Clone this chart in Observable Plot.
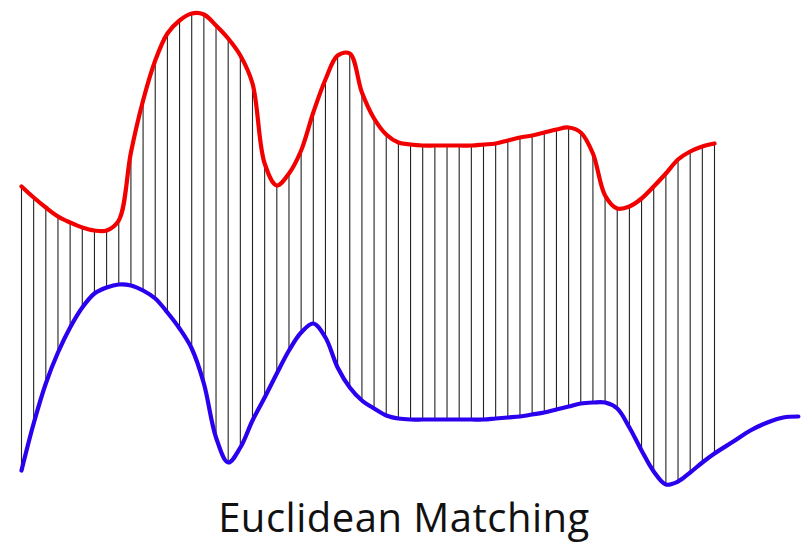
<!DOCTYPE html>
<html>
<head>
<meta charset="utf-8">
<script src="https://cdn.jsdelivr.net/npm/d3@7"></script>
<script src="https://cdn.jsdelivr.net/npm/@observablehq/plot@0.6"></script>
<style>
  html, body { margin: 0; padding: 0; background: #fff; }
  #wrap { position: relative; width: 808px; height: 544px; overflow: hidden; }
  #title { position: absolute; left: 0; width: 808px; top: 497px; text-align: center;
           font-family: "Open Sans", sans-serif; font-size: 40px; line-height: 40px;
           letter-spacing: 0.5px; color: #111; }
</style>
</head>
<body>
<div id="wrap">
  <div id="chart"></div>
  <div id="title">Euclidean Matching</div>
</div>
<script>
// sample index of each matching line (0..57)
const redSeries = [309, 298, 288, 279, 273, 268, 265, 265, 275, 343,
                   395, 435, 462, 475, 482, 481, 470, 457, 440, 412,
                   332, 310, 322, 345, 383, 416, 440, 442, 403, 377,
                   361, 353, 351, 350, 350, 350, 350, 350, 351, 352,
                   355, 358, 360, 363, 366, 368, 363, 342, 300, 287,
                   289, 297, 309, 322, 336, 344, 349, 352];
const blueSeries = [25, 72, 112, 143, 168, 188, 202, 208, 211, 210,
                    205, 197, 183, 167, 147, 112, 58, 33, 48, 75,
                    98, 122, 145, 163, 172, 158, 128, 108, 95, 87,
                    80, 77, 76, 76, 76, 76, 76, 76, 76, 77,
                    78, 79, 81, 83, 86, 89, 92, 93, 93, 87,
                    68, 45, 24, 11, 14, 23, 33, 42];
// blue series continues past the last matching line
const blueTailIndex = [58.55, 59.95, 61.35, 62.66, 63.9];
const blueTailValue = [54, 65, 73, 78, 79];

const matches = redSeries.map((r, i) => ({i, red: r, blue: blueSeries[i]}));
const redPts = redSeries.map((v, i) => ({i, v}));
const bluePts = blueSeries.map((v, i) => ({i, v}))
  .concat(blueTailIndex.map((t, k) => ({i: t, v: blueTailValue[k]})));

const chart = Plot.plot({
  width: 808,
  height: 495,
  marginLeft: 21,
  marginRight: 94,
  marginTop: 0,
  marginBottom: 0,
  x: {domain: [0, 57], axis: null},
  y: {domain: [0, 495], axis: null},
  marks: [
    Plot.ruleX(matches, {x: "i", y1: "blue", y2: "red", stroke: "#222", strokeWidth: 1.1}),
    Plot.line(redPts, {x: "i", y: "v", curve: "catmull-rom", stroke: "#f20000", strokeWidth: 4.2}),
    Plot.line(bluePts, {x: "i", y: "v", curve: "catmull-rom", stroke: "#2a00ee", strokeWidth: 4.2})
  ]
});
document.getElementById("chart").appendChild(chart);
</script>
</body>
</html>
